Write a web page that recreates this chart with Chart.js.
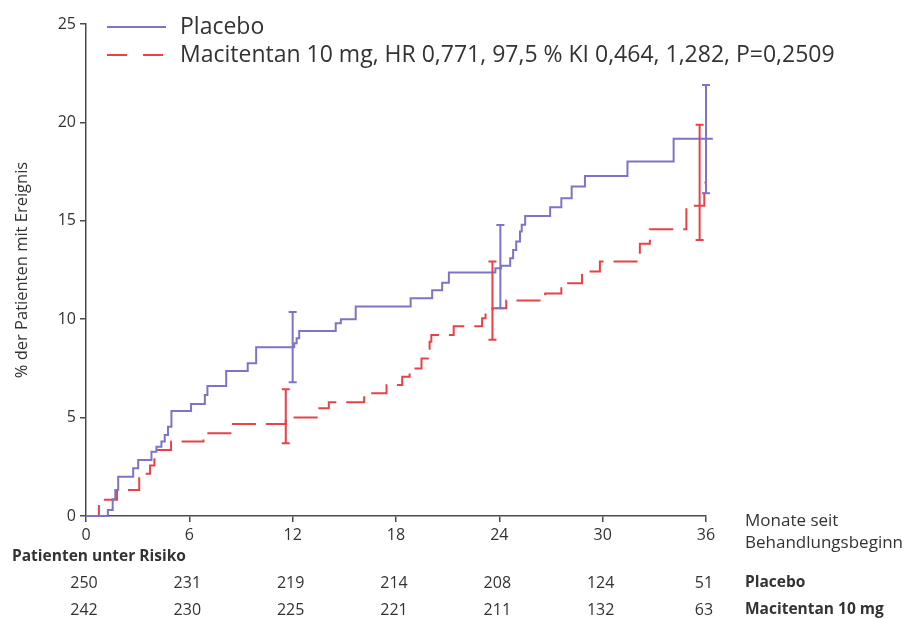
<!DOCTYPE html>
<html lang="de">
  <head>
    <meta charset="utf-8">
    <title>Kumulative Ereignisrate Placebo vs. Macitentan</title>
    <style>
      body { margin: 0; background: white; }
      .chartBox { width: 904px; height: 619px; }
    </style>
  </head>
  <body>
    <div class="chartBox">
      <canvas id="myChart" width="904" height="619"></canvas>
    </div>

    <script src="https://cdn.jsdelivr.net/npm/chart.js/dist/chart.umd.min.js"></script>
    <script>
    // Kaplan-Meier steps: month of event, % with event after that month
    const placeboMonths = [0, 1.27, 1.55, 1.7, 1.87, 2.74, 3.03, 3.8, 4.09, 4.38, 4.57, 4.76, 4.96, 6.1, 6.9, 7.05, 8.14, 9.39, 9.88, 12.09, 12.23, 12.38, 14.5, 14.8, 15.66, 18.85, 20.1, 20.68, 21.07, 23.77, 24.1, 24.63, 24.8, 24.98, 25.2, 25.3, 25.5, 26.95, 27.6, 28.2, 28.97, 31.44, 34.12, 36.4];
    const placeboPct = [0, 0.3, 0.85, 1.32, 2.0, 2.42, 2.85, 3.27, 3.52, 3.78, 4.12, 4.54, 5.33, 5.69, 6.15, 6.6, 7.37, 7.76, 8.58, 8.78, 9.03, 9.4, 9.8, 10.0, 10.64, 11.07, 11.47, 11.85, 12.37, 12.59, 12.71, 13.1, 13.52, 13.95, 14.45, 14.8, 15.25, 15.69, 16.15, 16.74, 17.28, 18.01, 19.17, 19.17];

    const maciMonths = [0, 0.75, 1.8, 3.09, 3.72, 3.97, 4.94, 6.82, 8.53, 11.6, 13.45, 14.1, 16.15, 17.45, 18.36, 18.79, 19.48, 19.85, 19.95, 20.05, 21.35, 23.0, 23.2, 23.6, 24.4, 26.66, 27.6, 28.8, 29.84, 32.16, 32.74, 34.86, 35.9, 36.0];
    const maciPct = [0, 0.82, 1.32, 2.15, 2.57, 3.36, 3.78, 4.2, 4.68, 5.0, 5.47, 5.78, 6.24, 6.66, 7.08, 7.5, 8.0, 8.5, 8.86, 9.2, 9.64, 10.05, 10.47, 10.56, 10.95, 11.3, 11.83, 12.42, 12.93, 13.83, 14.57, 15.76, 16.95, 16.95];

    // confidence intervals (error bars)
    const placeboCiMonths = [12.0, 24.06, 36.0];
    const placeboCiLow = [6.8, 10.56, 16.4];
    const placeboCiHigh = [10.36, 14.79, 21.9];
    const maciCiMonths = [11.6, 23.6, 35.63];
    const maciCiLow = [3.7, 8.95, 14.03];
    const maciCiHigh = [6.44, 12.93, 19.88];

    // patients at risk
    const riskMonths = [0, 6, 12, 18, 24, 30, 36];
    const riskPlacebo = [250, 231, 219, 214, 208, 124, 51];
    const riskMaci = [242, 230, 225, 221, 211, 132, 63];

    const fontFam = "'Open Sans', sans-serif";
    const blue = 'rgb(124,116,200)';
    const red = 'rgb(232,66,72)';
    const axisColor = '#4a4a4a';
    const textColor = '#333333';

    const toXY = (xs, ys) => xs.map((m, i) => ({x: m, y: ys[i]}));

    // setup
    const data = {
      datasets: [{
        label: 'Placebo',
        data: toXY(placeboMonths, placeboPct),
        borderColor: blue,
        borderWidth: 2,
        stepped: true,
        pointRadius: 0,
        clip: 10,
        ciMonths: placeboCiMonths, ciLow: placeboCiLow, ciHigh: placeboCiHigh
      }, {
        label: 'Macitentan 10 mg, HR 0,771, 97,5 % KI 0,464, 1,282, P=0,2509',
        data: toXY(maciMonths, maciPct),
        borderColor: red,
        borderWidth: 2,
        borderDash: [24, 10],
        stepped: true,
        pointRadius: 0,
        clip: 10,
        ciMonths: maciCiMonths, ciLow: maciCiLow, ciHigh: maciCiHigh
      }]
    };

    // error bars at 12, 24, 36 months
    const errorBars = {
      id: 'errorBars',
      afterDatasetsDraw(chart) {
        const {ctx, scales: {x, y}} = chart;
        ctx.save();
        ctx.lineWidth = 2;
        chart.data.datasets.forEach(ds => {
          ctx.strokeStyle = ds.borderColor;
          ds.ciMonths.forEach((m, i) => {
            const px = x.getPixelForValue(m);
            const lo = y.getPixelForValue(ds.ciLow[i]);
            const hi = y.getPixelForValue(ds.ciHigh[i]);
            ctx.beginPath();
            ctx.moveTo(px, lo); ctx.lineTo(px, hi);
            ctx.moveTo(px - 4, lo); ctx.lineTo(px + 4, lo);
            ctx.moveTo(px - 4, hi); ctx.lineTo(px + 4, hi);
            ctx.stroke();
          });
        });
        ctx.restore();
      }
    };

    // legend on top + risk table below
    const legendAndRisk = {
      id: 'legendAndRisk',
      afterDraw(chart) {
        const {ctx, scales: {x}} = chart;
        ctx.save();
        ctx.textBaseline = 'middle';
        chart.data.datasets.forEach((ds, i) => {
          const yy = 27 + i * 28;
          ctx.strokeStyle = ds.borderColor;
          ctx.lineWidth = 2;
          ctx.setLineDash(ds.borderDash ? [20, 16] : []);
          ctx.beginPath();
          ctx.moveTo(107, yy);
          ctx.lineTo(166, yy);
          ctx.stroke();
          ctx.setLineDash([]);
          ctx.fillStyle = textColor;
          ctx.font = '23px ' + fontFam;
          ctx.textAlign = 'left';
          ctx.fillText(ds.label, 180, yy);
        });

        ctx.font = '17px ' + fontFam;
        ctx.fillText('Monate seit', 745, 521);
        ctx.fillText('Behandlungsbeginn', 745, 543);

        ctx.font = 'bold 15.5px ' + fontFam;
        ctx.fillText('Patienten unter Risiko', 12, 557);
        ctx.fillText('Placebo', 745, 583);
        ctx.fillText('Macitentan 10 mg', 745, 610);

        ctx.font = '16px ' + fontFam;
        ctx.textAlign = 'center';
        riskMonths.forEach((m, i) => {
          const px = x.getPixelForValue(m) - 2;
          ctx.fillText(riskPlacebo[i], px, 583);
          ctx.fillText(riskMaci[i], px, 610);
        });
        ctx.restore();
      }
    };

    // config
    const config = {
      type: 'line',
      data,
      options: {
        responsive: false,
        animation: false,
        layout: { padding: { left: 10, top: 24, right: 198, bottom: 63 } },
        plugins: {
          legend: { display: false },
          tooltip: { enabled: false }
        },
        scales: {
          x: {
            type: 'linear',
            min: 0,
            max: 36,
            ticks: { stepSize: 6, color: textColor, padding: 4, font: { family: fontFam, size: 16 } },
            grid: { drawOnChartArea: false, tickLength: 6, color: axisColor, lineWidth: 1.5 },
            border: { color: axisColor, width: 1.5 },
            afterFit(s) { s.height = 40; }
          },
          y: {
            min: 0,
            max: 25,
            ticks: { stepSize: 5, color: textColor, padding: 4, font: { family: fontFam, size: 16 } },
            grid: { drawOnChartArea: false, tickLength: 6, color: axisColor, lineWidth: 1.5 },
            border: { color: axisColor, width: 1.5 },
            title: {
              display: true,
              text: '% der Patienten mit Ereignis',
              color: textColor,
              padding: { top: 2, bottom: 4 },
              font: { family: fontFam, size: 16.5 }
            },
            afterFit(s) { s.width = 76; }
          }
        }
      },
      plugins: [errorBars, legendAndRisk]
    };

    // render
    const myChart = new Chart(document.getElementById('myChart'), config);
    </script>
  </body>
</html>
